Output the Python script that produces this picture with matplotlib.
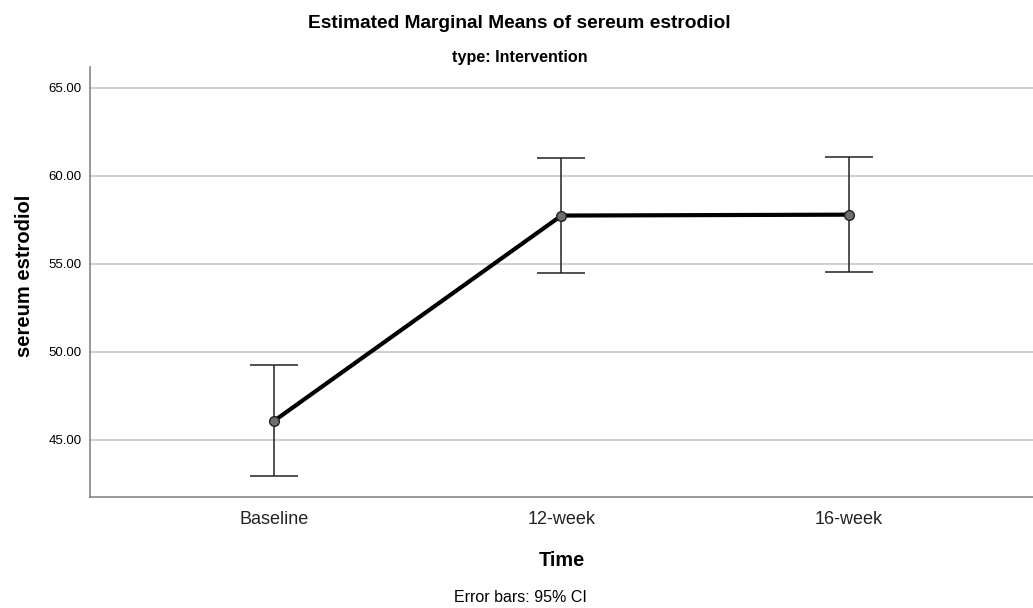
import matplotlib.pyplot as plt
import numpy as np

# Data
time_points = ['Baseline', '12-week', '16-week']
means = [46.08, 57.75, 57.80]
ci_lower = [42.95, 54.47, 54.53]
ci_upper = [49.24, 61.02, 61.06]

plt.rcParams['font.family'] = ['Liberation Sans', 'DejaVu Sans']

fig = plt.figure(figsize=(10.33, 6.08), dpi=100)
ax = fig.add_axes([0.0871, 0.1826, 0.9129, 0.7072])

x = np.arange(len(time_points))
means = np.array(means)
yerr = np.array([means - np.array(ci_lower), np.array(ci_upper) - means])

ax.errorbar(x, means, yerr=yerr, fmt='none', ecolor='#222222', elinewidth=1.1,
            capsize=17, capthick=1.1, zorder=3)
ax.plot(x, means, color='black', linewidth=3.0, zorder=4)
ax.plot(x, means, linestyle='none', marker='o', markersize=7,
        markerfacecolor='#6e6e6e', markeredgecolor='#222222', markeredgewidth=1.0, zorder=5)

ax.set_xlim(-0.64, 2.64)
ax.set_ylim(41.76, 66.19)
ax.set_yticks([45, 50, 55, 60, 65])
ax.set_yticklabels([f'{v:.2f}' for v in [45, 50, 55, 60, 65]], fontsize=9.5)
ax.set_xticks(x)
ax.set_xticklabels(time_points, fontsize=13)
ax.tick_params(axis='both', length=0, pad=6)
ax.tick_params(axis='x', pad=10, colors='#222222')

ax.yaxis.grid(True, color='#c8c8c8', linewidth=1.2)
ax.set_axisbelow(True)
for side in ['top', 'right']:
    ax.spines[side].set_visible(False)
for side in ['left', 'bottom']:
    ax.spines[side].set_color('#888888')
    ax.spines[side].set_linewidth(1.2)

ax.set_ylabel('sereum estrodiol', fontsize=14.5, fontweight='bold')
ax.yaxis.set_label_coords(-0.059, 0.515)
ax.set_xlabel('Time', fontsize=14.3, fontweight='bold', labelpad=17)

fig.text(0.503, 0.961, 'Estimated Marginal Means of sereum estrodiol', ha='center', va='center',
         fontsize=13.8, fontweight='bold')
fig.text(0.503, 0.906, 'type: Intervention', ha='center', va='center', fontsize=11.6, fontweight='bold')
fig.text(0.504, 0.018, 'Error bars: 95% CI', ha='center', va='center', fontsize=11.5)

fig.savefig('out.png', dpi=100)
